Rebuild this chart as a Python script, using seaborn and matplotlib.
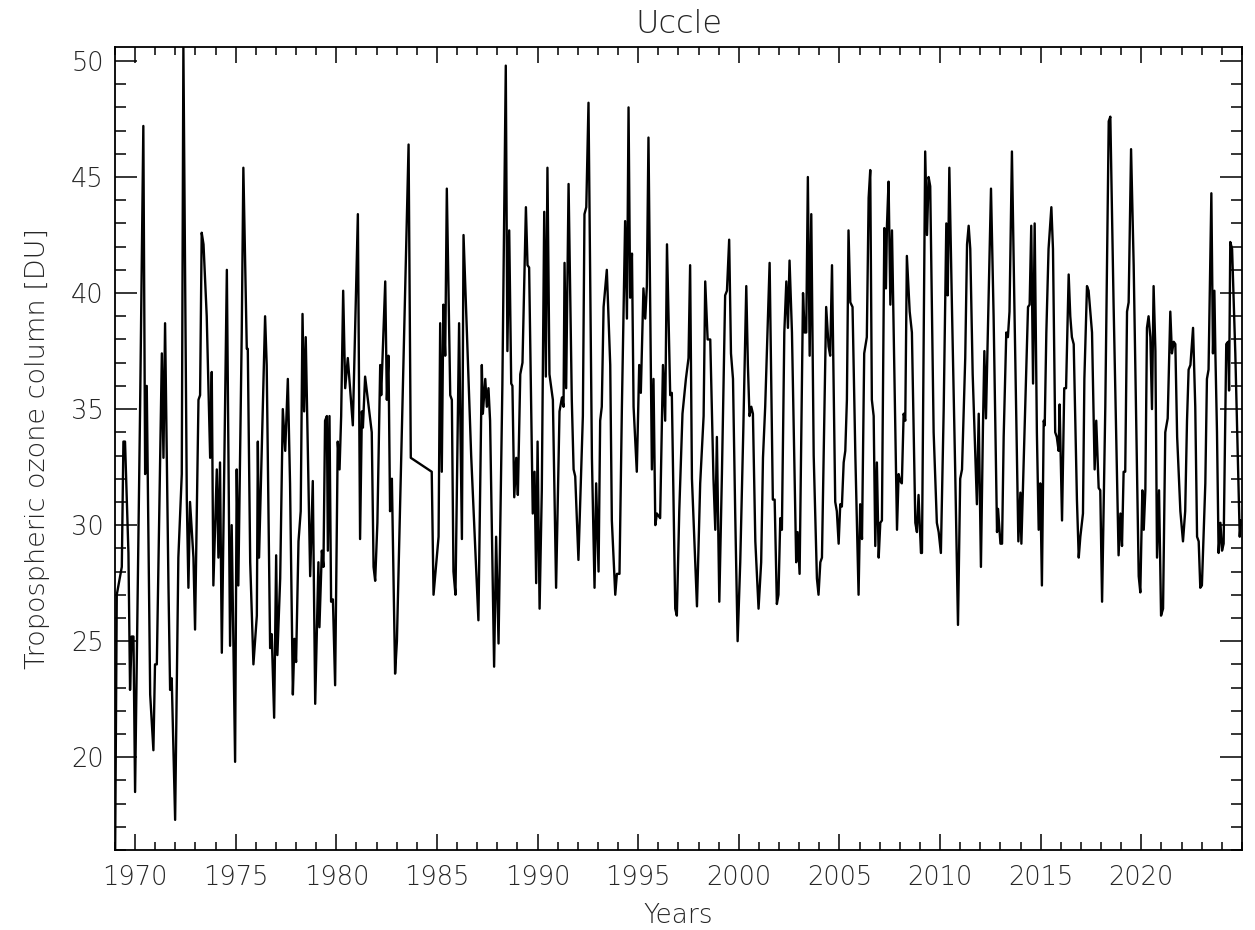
import numpy as np
import pandas as pd
import matplotlib
matplotlib.use("Agg")
import matplotlib.pyplot as plt
from matplotlib.ticker import FixedLocator, MultipleLocator
import seaborn as sns

# ---------------- data ----------------
years_1969_1976 = [1969.01, 1969.09, 1969.34, 1969.42, 1969.50, 1969.67, 1969.75, 1969.83, 1969.92, 1970.00,
                   1970.25, 1970.41, 1970.50, 1970.58, 1970.75, 1970.91, 1970.99, 1971.08, 1971.33, 1971.41,
                   1971.49, 1971.66, 1971.74, 1971.82, 1971.99, 1972.15, 1972.32, 1972.40, 1972.57, 1972.65,
                   1972.73, 1972.90, 1972.98, 1973.15, 1973.23, 1973.31, 1973.40, 1973.56, 1973.73, 1973.81,
                   1973.89, 1974.06, 1974.14, 1974.22, 1974.31, 1974.47, 1974.56, 1974.72, 1974.80, 1974.97,
                   1975.05, 1975.13, 1975.30, 1975.38, 1975.55, 1975.60, 1975.72, 1975.88, 1976.05, 1976.10,
                   1976.16, 1976.46, 1976.54]
ozone_1969_1976 = [16.0, 27.0, 28.2, 33.6, 33.6, 28.8, 22.9, 25.2, 25.2, 18.5,
                   35.1, 47.2, 32.2, 36.0, 22.7, 20.3, 24.0, 24.0, 37.4, 32.9,
                   38.7, 27.3, 22.9, 23.4, 17.3, 28.6, 32.2, 50.6, 31.1, 27.3,
                   31.0, 28.6, 25.5, 35.4, 35.6, 42.6, 42.1, 39.0, 32.9, 36.6,
                   27.4, 32.4, 28.6, 32.7, 24.5, 35.1, 41.0, 24.8, 30.0, 19.8,
                   32.4, 27.4, 38.3, 45.4, 37.6, 37.6, 28.4, 24.0, 26.1, 33.6,
                   28.6, 39.0, 36.9]

years_1976_1983 = [1976.71, 1976.79, 1976.91, 1977.01, 1977.07, 1977.21, 1977.34, 1977.46, 1977.59, 1977.70,
                   1977.84, 1977.92, 1978.00, 1978.12, 1978.23, 1978.32, 1978.40, 1978.48, 1978.70, 1978.83,
                   1978.95, 1979.11, 1979.16, 1979.28, 1979.36, 1979.44, 1979.53, 1979.58, 1979.66, 1979.74,
                   1979.83, 1979.94, 1980.07, 1980.16, 1980.24, 1980.34, 1980.44, 1980.57, 1980.82, 1981.07,
                   1981.18, 1981.27, 1981.32, 1981.43, 1981.76, 1981.85, 1981.93, 1982.04, 1982.18, 1982.23,
                   1982.43, 1982.51, 1982.59, 1982.67, 1982.76, 1982.92, 1983.01, 1983.34, 1983.59, 1983.70]
ozone_1976_1983 = [24.7, 25.3, 21.7, 28.7, 24.4, 27.7, 35.0, 33.2, 36.3, 31.8,
                   22.7, 25.1, 24.1, 29.3, 30.6, 39.1, 34.9, 38.1, 27.8, 31.9,
                   22.3, 28.4, 25.6, 28.9, 28.2, 34.5, 34.7, 28.9, 34.7, 26.7,
                   26.8, 23.1, 33.6, 32.4, 34.7, 40.1, 35.9, 37.2, 34.3, 43.4,
                   29.4, 34.9, 34.2, 36.4, 34.0, 28.2, 27.6, 30.1, 36.9, 35.6,
                   40.5, 35.4, 37.3, 30.6, 32.0, 23.6, 25.0, 37.2, 46.4, 32.9]

years_1984_1991 = [1984.74, 1984.83, 1985.08, 1985.16, 1985.24, 1985.32, 1985.41, 1985.49, 1985.66, 1985.74,
                   1985.82, 1985.92, 1986.10, 1986.24, 1986.32, 1986.70, 1987.06, 1987.23, 1987.28, 1987.40,
                   1987.48, 1987.56, 1987.64, 1987.84, 1987.94, 1988.06, 1988.25, 1988.42, 1988.50, 1988.59,
                   1988.69, 1988.75, 1988.84, 1988.94, 1989.02, 1989.14, 1989.25, 1989.42, 1989.50, 1989.58,
                   1989.76, 1989.85, 1989.93, 1990.00, 1990.10, 1990.21, 1990.33, 1990.41, 1990.49, 1990.59,
                   1990.76, 1990.92, 1991.09, 1991.21, 1991.29, 1991.34, 1991.42, 1991.54]
ozone_1984_1991 = [32.3, 27.0, 29.5, 38.7, 32.3, 39.5, 37.3, 44.5, 35.6, 35.4,
                   28.0, 27.0, 38.7, 29.4, 42.5, 33.0, 25.9, 36.9, 34.8, 36.3,
                   35.1, 35.9, 34.5, 23.9, 29.5, 24.9, 36.0, 49.8, 37.5, 42.7,
                   36.1, 36.0, 31.2, 32.9, 31.3, 36.5, 37.0, 43.7, 41.2, 41.1,
                   30.5, 32.3, 27.5, 33.6, 26.4, 31.5, 43.5, 36.4, 45.4, 36.5,
                   35.4, 27.3, 34.9, 35.5, 35.1, 41.3, 35.9, 44.7]

years_1991_1998 = [1991.70, 1991.79, 1991.87, 1992.03, 1992.25, 1992.33, 1992.42, 1992.53, 1992.70, 1992.83,
                   1992.91, 1993.03, 1993.11, 1993.19, 1993.28, 1993.44, 1993.61, 1993.69, 1993.86, 1993.94,
                   1994.07, 1994.19, 1994.35, 1994.44, 1994.52, 1994.60, 1994.69, 1994.77, 1994.93, 1995.05,
                   1995.13, 1995.26, 1995.35, 1995.43, 1995.51, 1995.68, 1995.76, 1995.85, 1995.93, 1996.09,
                   1996.23, 1996.34, 1996.43, 1996.59, 1996.67, 1996.84, 1996.92, 1997.04, 1997.20, 1997.37,
                   1997.50, 1997.58, 1997.67, 1997.92, 1998.08, 1998.25, 1998.33, 1998.45, 1998.58]
ozone_1991_1998 = [35.4, 32.4, 32.1, 28.5, 34.7, 43.4, 43.7, 48.2, 32.9, 27.3,
                   31.8, 28.0, 34.5, 35.1, 39.4, 41.0, 36.9, 30.2, 27.0, 27.9,
                   27.9, 35.1, 43.1, 38.9, 48.0, 39.8, 41.7, 35.1, 32.3, 36.9,
                   35.7, 40.2, 38.9, 40.3, 46.7, 32.4, 36.3, 30.0, 30.5, 30.3,
                   36.9, 34.5, 42.1, 35.6, 35.7, 26.4, 26.1, 30.6, 34.8, 36.3,
                   37.2, 41.2, 32.0, 26.5, 31.8, 34.7, 40.5, 38.0, 38.0]

years_1998_2005 = [1998.74, 1998.83, 1998.91, 1999.03, 1999.16, 1999.32, 1999.41, 1999.52, 1999.61, 1999.71,
                   1999.82, 1999.94, 2000.07, 2000.22, 2000.37, 2000.45, 2000.53, 2000.62, 2000.70, 2000.82,
                   2000.98, 2001.11, 2001.20, 2001.31, 2001.53, 2001.69, 2001.78, 2001.89, 2001.97, 2002.06,
                   2002.14, 2002.26, 2002.36, 2002.44, 2002.52, 2002.64, 2002.85, 2002.92, 2003.02, 2003.19,
                   2003.27, 2003.35, 2003.43, 2003.52, 2003.60, 2003.72, 2003.88, 2003.96, 2004.05, 2004.13,
                   2004.34, 2004.46, 2004.54, 2004.63, 2004.79, 2004.87, 2004.96, 2005.04, 2005.12, 2005.21,
                   2005.29, 2005.37, 2005.45, 2005.54, 2005.65, 2005.79, 2005.95]
ozone_1998_2005 = [32.0, 29.8, 33.8, 26.7, 32.2, 39.9, 40.1, 42.3, 37.4, 36.3,
                   30.5, 25.0, 28.4, 34.0, 40.3, 36.9, 34.7, 35.1, 34.8, 29.3,
                   26.4, 28.4, 32.9, 35.1, 41.3, 31.1, 31.1, 26.6, 27.0, 30.3,
                   29.8, 38.3, 40.5, 38.5, 41.4, 38.3, 28.4, 29.7, 27.9, 40.0,
                   38.3, 38.3, 45.0, 37.3, 43.4, 33.0, 27.7, 27.0, 28.4, 28.6,
                   39.4, 37.7, 37.3, 41.2, 31.0, 30.6, 29.2, 30.9, 30.8, 32.7,
                   33.2, 35.4, 42.7, 39.6, 39.4, 33.0, 27.0]

years_2006_2013 = [2006.03, 2006.12, 2006.23, 2006.36, 2006.45, 2006.53, 2006.61, 2006.70, 2006.78, 2006.86,
                   2006.95, 2007.03, 2007.11, 2007.23, 2007.31, 2007.36, 2007.44, 2007.53, 2007.61, 2007.69,
                   2007.86, 2007.94, 2008.02, 2008.10, 2008.19, 2008.27, 2008.35, 2008.49, 2008.60, 2008.77,
                   2008.85, 2008.93, 2009.05, 2009.10, 2009.26, 2009.35, 2009.43, 2009.51, 2009.68, 2009.84,
                   2009.93, 2010.04, 2010.18, 2010.31, 2010.38, 2010.46, 2010.59, 2010.75, 2010.89, 2011.00,
                   2011.09, 2011.25, 2011.34, 2011.42, 2011.50, 2011.62, 2011.83, 2011.92, 2012.03, 2012.13,
                   2012.20, 2012.28, 2012.53, 2012.66, 2012.83, 2012.88, 2013.00, 2013.08, 2013.16, 2013.29,
                   2013.37, 2013.45, 2013.57, 2013.69, 2013.89, 2013.99]
ozone_2006_2013 = [30.9, 29.4, 37.4, 38.1, 44.1, 45.3, 35.4, 34.7, 29.1, 32.7,
                   28.6, 30.1, 30.2, 42.8, 40.2, 42.9, 44.8, 39.5, 42.7, 38.5,
                   29.8, 32.2, 31.9, 31.8, 34.8, 34.5, 41.6, 39.2, 38.3, 30.1,
                   29.7, 31.3, 28.8, 28.8, 46.1, 42.5, 45.0, 44.6, 34.0, 30.1,
                   29.7, 28.8, 35.0, 43.0, 39.9, 45.4, 39.4, 32.4, 25.7, 32.0,
                   32.4, 37.2, 42.1, 42.9, 41.9, 36.5, 30.9, 34.8, 28.2, 34.2,
                   37.5, 34.6, 44.5, 39.0, 29.7, 30.7, 29.2, 29.2, 33.8, 38.3,
                   38.1, 39.2, 46.1, 39.6, 29.3, 31.4]

years_2014_2021 = [2014.04, 2014.37, 2014.45, 2014.53, 2014.62, 2014.70, 2014.81, 2014.90, 2014.98, 2015.06,
                   2015.15, 2015.20, 2015.28, 2015.39, 2015.53, 2015.61, 2015.72, 2015.80, 2015.89, 2015.94,
                   2016.06, 2016.17, 2016.26, 2016.39, 2016.47, 2016.55, 2016.64, 2016.80, 2016.89, 2016.97,
                   2017.10, 2017.17, 2017.30, 2017.38, 2017.55, 2017.68, 2017.76, 2017.88, 2017.96, 2018.05,
                   2018.21, 2018.38, 2018.46, 2018.62, 2018.87, 2018.96, 2019.04, 2019.12, 2019.20, 2019.29,
                   2019.37, 2019.49, 2019.62, 2019.87, 2019.95, 2020.05, 2020.12, 2020.20, 2020.28, 2020.36,
                   2020.45, 2020.53, 2020.61, 2020.70, 2020.78, 2020.88, 2020.98, 2021.08, 2021.19, 2021.31,
                   2021.44]
ozone_2014_2021 = [29.2, 39.4, 39.5, 42.9, 36.1, 43.0, 34.0, 29.8, 31.8, 27.4,
                   34.5, 34.3, 38.3, 41.9, 43.7, 41.9, 34.0, 33.8, 33.2, 35.2,
                   30.2, 35.9, 35.9, 40.8, 39.0, 38.1, 37.8, 31.1, 28.6, 29.5,
                   30.5, 36.3, 40.3, 40.1, 38.3, 32.4, 34.5, 31.6, 31.5, 26.7,
                   35.1, 47.4, 47.6, 39.6, 28.7, 30.5, 29.1, 32.3, 32.3, 39.2,
                   39.6, 46.2, 41.2, 27.8, 27.1, 31.5, 29.8, 31.5, 38.5, 39.0,
                   38.1, 35.0, 40.3, 37.5, 28.6, 31.5, 26.1, 26.4, 34.0, 34.6,
                   39.2]

years_2021_2024 = [2021.52, 2021.61, 2021.69, 2021.78, 2021.94, 2022.07, 2022.18, 2022.27, 2022.35, 2022.44,
                   2022.57, 2022.68, 2022.77, 2022.85, 2022.93, 2023.01, 2023.18, 2023.26, 2023.34, 2023.48,
                   2023.56, 2023.63, 2023.68, 2023.76, 2023.84, 2023.93, 2024.01, 2024.09, 2024.22, 2024.31,
                   2024.36, 2024.42, 2024.51, 2024.67, 2024.89, 2024.95]
ozone_2021_2024 = [37.4, 37.9, 37.8, 33.8, 30.6, 29.3, 30.6, 34.5, 36.7, 36.9,
                   38.5, 35.1, 29.5, 29.3, 27.3, 27.4, 31.8, 36.3, 36.7, 44.3,
                   37.4, 40.1, 37.4, 34.0, 28.8, 30.1, 28.9, 29.2, 37.8, 37.9,
                   35.8, 42.2, 41.9, 37.4, 29.5, 30.2]

x_tick_values = [1970, 1975, 1980, 1985, 1990, 1995, 2000, 2005, 2010, 2015, 2020]
y_tick_values = [20, 25, 30, 35, 40, 45, 50]
title_text = "Uccle"
x_label = "Years"
y_label = "Tropospheric ozone column [DU]"

# ---------------- build table ----------------
years = np.concatenate([years_1969_1976, years_1976_1983, years_1984_1991, years_1991_1998,
                        years_1998_2005, years_2006_2013, years_2014_2021, years_2021_2024])
ozone = np.concatenate([ozone_1969_1976, ozone_1976_1983, ozone_1984_1991, ozone_1991_1998,
                        ozone_1998_2005, ozone_2006_2013, ozone_2014_2021, ozone_2021_2024])
df = pd.DataFrame({"Years": years, "Ozone": ozone})

# ---------------- style ----------------
sns.set_theme(style="white")
plt.rcParams["font.family"] = ["DejaVu Sans"]
plt.rcParams["font.weight"] = "light"
plt.rcParams["axes.labelweight"] = "light"
plt.rcParams["axes.titleweight"] = "light"
text_color = "#262626"

fig = plt.figure(figsize=(12.55, 9.3), dpi=100)
ax = fig.add_axes([0.0916, 0.0860, 0.8980, 0.8634])

sns.lineplot(data=df, x="Years", y="Ozone", ax=ax, color="black", linewidth=1.7,
             estimator=None, sort=False)

ax.set_xlim(1969.0, 2025.0)
ax.set_ylim(16.0, 50.6)

ax.xaxis.set_major_locator(FixedLocator(x_tick_values))
ax.xaxis.set_minor_locator(MultipleLocator(1))
ax.yaxis.set_major_locator(FixedLocator(y_tick_values))
ax.yaxis.set_minor_locator(MultipleLocator(1))

ax.tick_params(axis="both", which="both", direction="in", top=True, right=True,
               bottom=True, left=True, color="black", labelcolor=text_color)
ax.tick_params(axis="x", which="major", length=11.5, width=1.1, pad=11, labelsize=18.5)
ax.tick_params(axis="x", which="minor", length=5.8, width=1.1)
ax.tick_params(axis="y", which="major", length=16, width=1.1, pad=8, labelsize=18.5)
ax.tick_params(axis="y", which="minor", length=8, width=1.1)

for side in ["left", "right", "top", "bottom"]:
    ax.spines[side].set_visible(True)
    ax.spines[side].set_color("black")
    ax.spines[side].set_linewidth(1.3)

ax.set_xlabel(x_label, fontsize=19, color=text_color, fontweight="light")
ax.xaxis.set_label_coords(0.5, -0.066)
ax.set_ylabel(y_label, fontsize=19.5, color=text_color, fontweight="light")
ax.yaxis.set_label_coords(-0.0577, 0.5)
ax.set_title(title_text, fontsize=23, color=text_color, fontweight="light", y=1.0174, pad=0)

fig.savefig("out.png", dpi=100)
